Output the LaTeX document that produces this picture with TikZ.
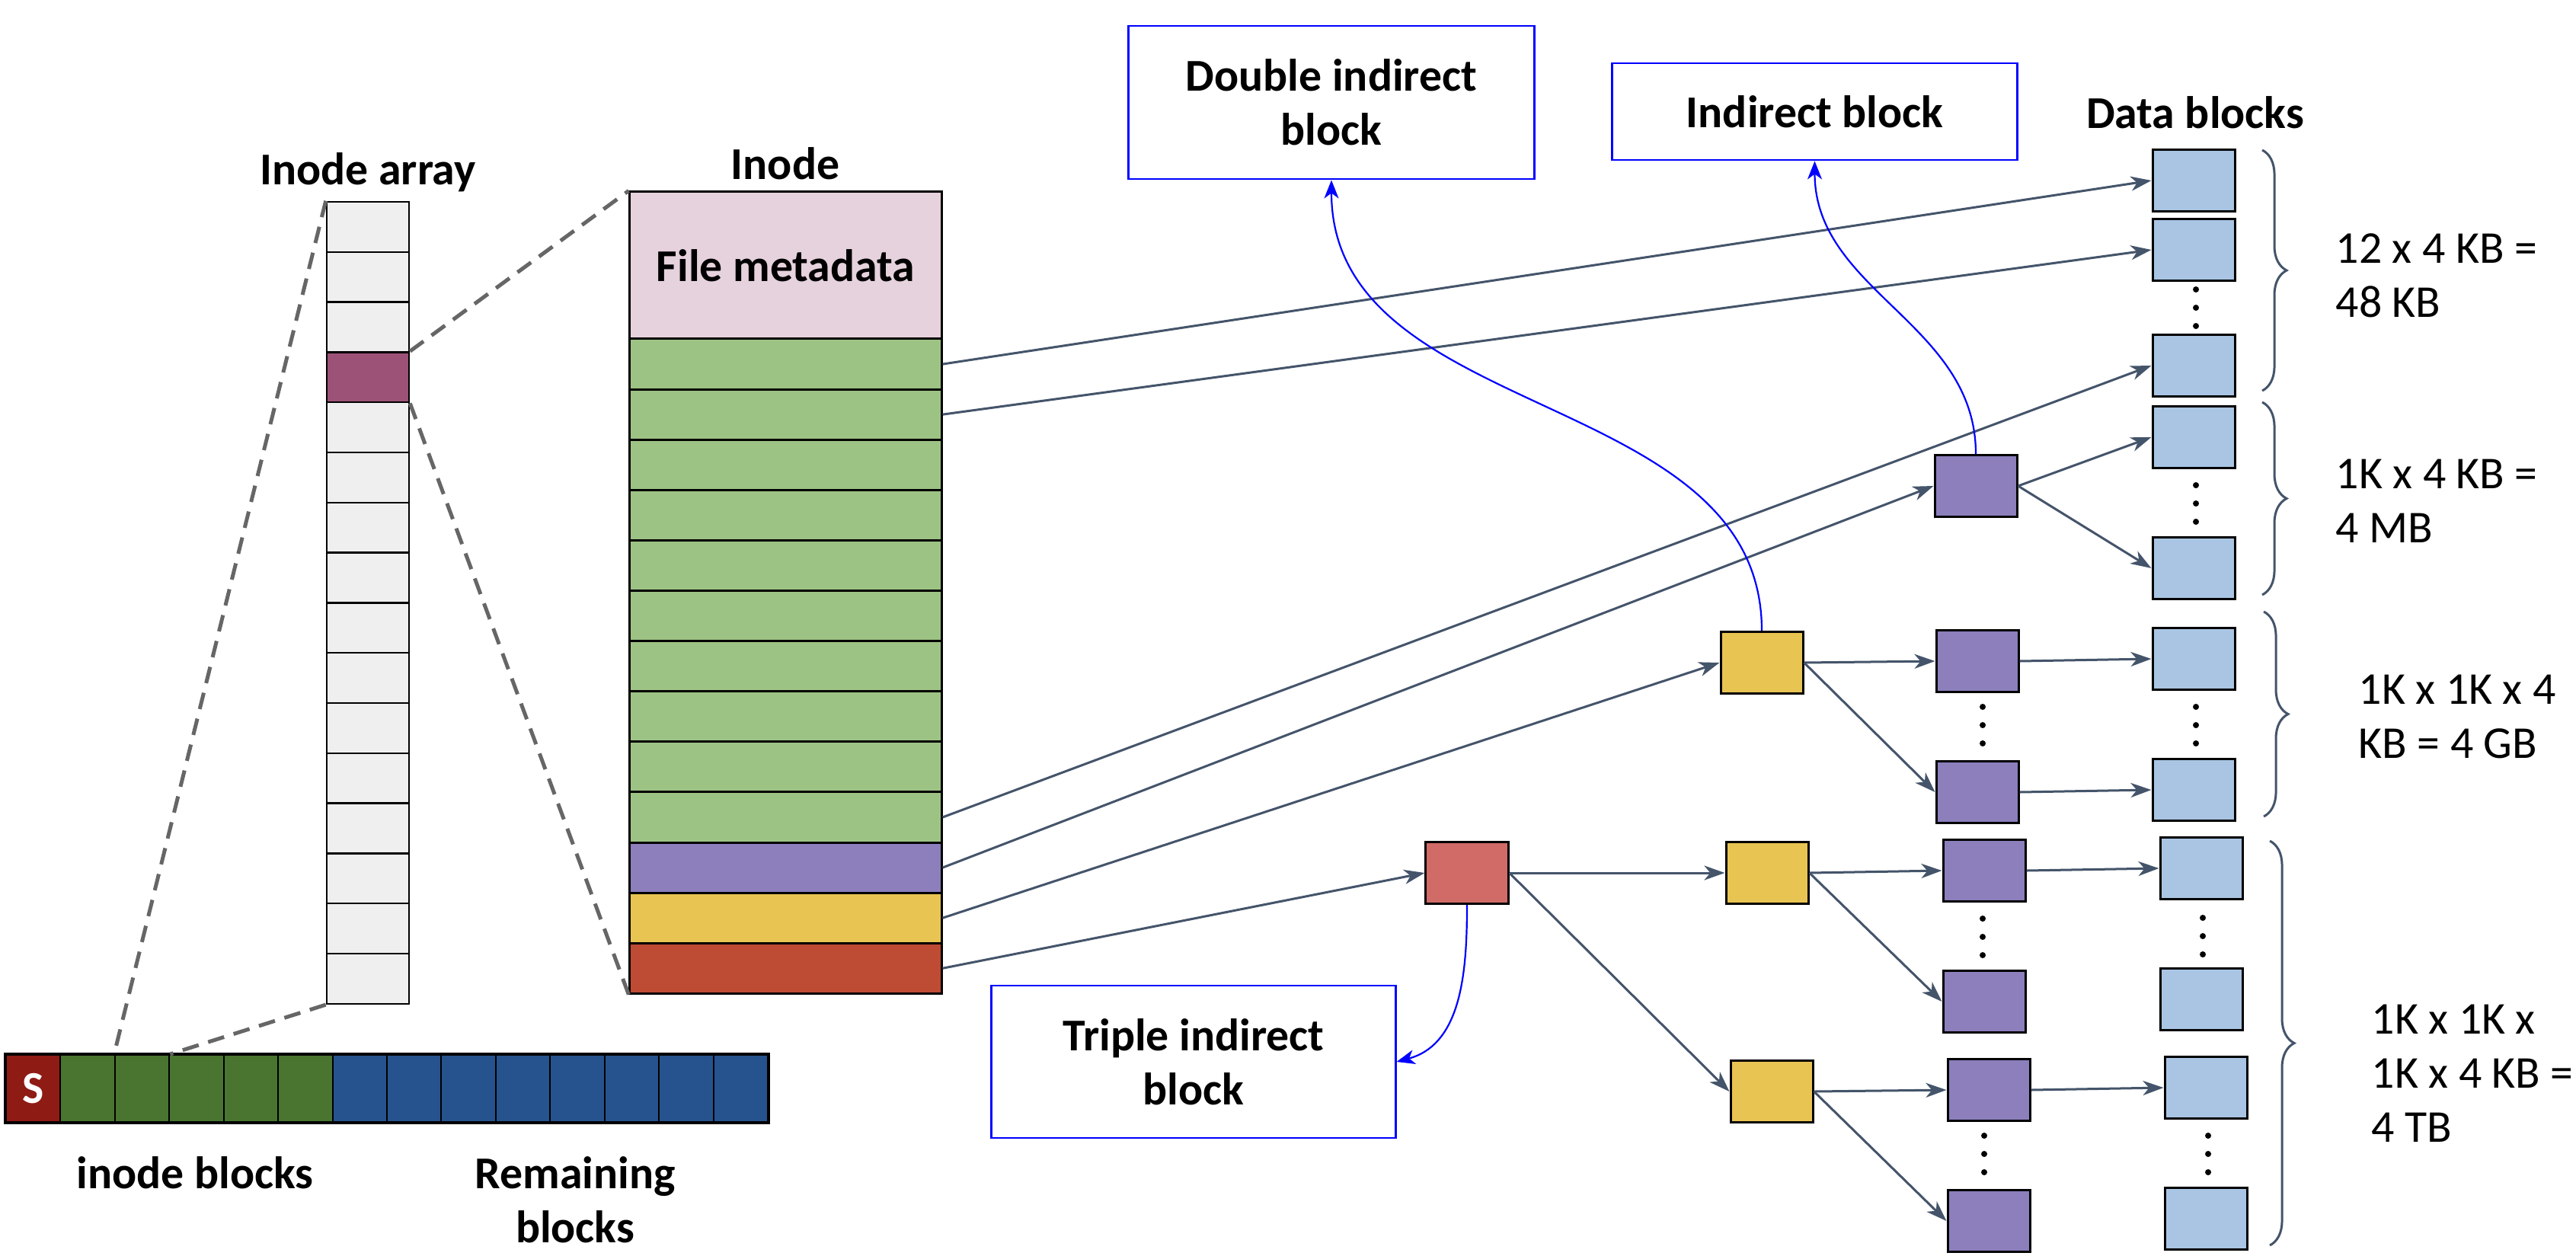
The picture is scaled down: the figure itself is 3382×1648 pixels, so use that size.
\documentclass[tikz,border=0pt]{standalone}
\usepackage{fontspec}
\setmainfont{Carlito}
\usetikzlibrary{arrows.meta,decorations.pathreplacing}

\definecolor{cellgray}{HTML}{EFEFEF}
\definecolor{cellpick}{HTML}{9C5276}
\definecolor{metapink}{HTML}{E6D2DC}
\definecolor{rowgreen}{HTML}{9DC384}
\definecolor{ptrpurple}{HTML}{8C7FBC}
\definecolor{ptryellow}{HTML}{E8C452}
\definecolor{ptrred}{HTML}{BE4B33}
\definecolor{ptrsalmon}{HTML}{D06B68}
\definecolor{datablue}{HTML}{A9C5E3}
\definecolor{superred}{HTML}{8E1B14}
\definecolor{diskgreen}{HTML}{4A7530}
\definecolor{diskblue}{HTML}{26538D}
\definecolor{linkgray}{HTML}{44546A}
\definecolor{zoomgray}{HTML}{666666}

\tikzset{%
				every entry/.style={
					draw,
					fill=cellgray,
					line width=0.025cm,
					inner sep=0pt,
					minimum width=1.08cm,
					minimum height=0.658cm
				},
				entry 4/.style={fill=cellpick},
				every field/.style={
					draw,
					line width=0.03cm,
					inner sep=0pt,
					minimum width=4.09cm,
					minimum height=0.661cm
				},
				field green/.style={fill=rowgreen},
				field purple/.style={fill=ptrpurple},
				field yellow/.style={fill=ptryellow},
				field red/.style={fill=ptrred},
				every disk/.style={
					draw,
					line width=0.02cm,
					inner sep=0pt,
					minimum width=0.7143cm,
					minimum height=0.88cm
				},
				disk super/.style={
					fill=superred,
					text=white,
					font=\fontsize{17}{20.2}\selectfont\bfseries,
					execute at begin node=S
				},
				disk inode/.style={fill=diskgreen},
				disk data/.style={fill=diskblue},
				block/.style={
					draw,
					line width=0.03cm,
					inner sep=0pt,
					minimum width=1.08cm,
					minimum height=0.81cm
				},
				note box/.style={
					draw=blue,
					line width=0.028cm,
					align=center,
					font=\fontsize{17}{20.2}\selectfont\bfseries
				},
				title/.style={font=\fontsize{17}{20.2}\selectfont\bfseries},
				link/.style={->, draw=linkgray, line width=0.03cm},
				note link/.style={-{Stealth[length=0.24cm,width=0.19cm,inset=0.07cm]}, draw=blue, line width=0.022cm},
				zoom line/.style={draw=zoomgray, line width=0.05cm, dash pattern=on 0.22cm off 0.13cm},
				size brace/.style={draw=linkgray, line width=0.03cm, decorate, decoration={brace, amplitude=0.32cm}},
				size label/.style={anchor=west, align=left, inner sep=0pt}
			}

\begin{document}
\begin{tikzpicture}[x=0.01cm, y=-0.01cm, >={Stealth[length=0.27cm,width=0.19cm,inset=0.08cm]}, font=\fontsize{17}{20.2}\selectfont]
			
			\useasboundingbox (0,0) rectangle (3382,1648);
			
			\foreach \i in {1,...,16}
			\node [every entry/.try, entry \i/.try] (entry-\i) at (483,232.1+65.8*\i) {};
			
			\node [every field, fill=metapink, minimum height=1.93cm, font=\fontsize{17}{20.2}\selectfont\bfseries] (meta) at (1031.5,348.5) {File metadata};
			
			\foreach \c [count=\j] in {green,green,green,green,green,green,green,green,green,green,purple,yellow,red}
			\node [every field/.try, field \c/.try] (field-\j) at (1031.5,411.95+66.1*\j) {};
			
			\foreach \c [count=\k] in {super,inode,inode,inode,inode,inode,data,data,data,data,data,data,data,data}
			\node [every disk/.try, disk \c/.try] (disk-\k) at (-27.715+71.43*\k,1429) {};
			\draw [line width=0.04cm] (disk-1.north west) rectangle (disk-14.south east);
			
			\draw [zoom line] (entry-1.north west) -- (disk-3.north west);
			\draw [zoom line] (entry-16.south west) -- (disk-3.north east);
			\draw [zoom line] (entry-4.north east) -- (meta.north west);
			\draw [zoom line] (entry-4.south east) -- (field-13.south west);
			
			\node [title] at (483,226) {Inode array};
			\node [title] at (1031,215) {Inode};
			\node [title] at (2882,148) {Data blocks};
			\node [title] at (256,1540) {inode blocks};
			\node [title, align=center] at (755,1575) {Remaining\\blocks};
			
			\foreach \x/\y [count=\i] in {2880/237,2880/328,2880/480,2880/574,2880/746,2880/865,2880/1037,2890/1140,2890/1312,2896/1428,2896/1600}
			\node [block, fill=datablue] (data-\i) at (\x,\y) {};
			
			\node [block, fill=ptrpurple] (single) at (2594,638) {};
			\node [block, fill=ptryellow] (double) at (2313,870) {};
			\node [block, fill=ptrpurple] (double-1) at (2596,868) {};
			\node [block, fill=ptrpurple] (double-2) at (2596,1040) {};
			\node [block, fill=ptrsalmon] (triple) at (1926,1146) {};
			\node [block, fill=ptryellow] (triple-1) at (2320,1146) {};
			\node [block, fill=ptryellow] (triple-2) at (2326,1433) {};
			\node [block, fill=ptrpurple] (triple-1a) at (2605,1143) {};
			\node [block, fill=ptrpurple] (triple-1b) at (2605,1315) {};
			\node [block, fill=ptrpurple] (triple-2a) at (2611,1431) {};
			\node [block, fill=ptrpurple] (triple-2b) at (2611,1603) {};
			
			\foreach \x/\y in {2883/404,2883/661,2603/952,2883/952,2603/1230,2892/1229,2605/1515,2899/1515}
			\foreach \d in {-24,0,24}
			\fill (\x,\y+\d) circle (0.04cm);
			
			\node [note box, minimum width=5.32cm, minimum height=2.01cm] (double-note) at (1748,134.5) {Double indirect\\block};
			\node [note box, minimum width=5.31cm, minimum height=1.27cm] (single-note) at (2382.5,146.5) {Indirect block};
			\node [note box, minimum width=5.30cm, minimum height=2.00cm] (triple-note) at (1567,1394) {Triple indirect\\block};
			
			\foreach \i/\j in {field-1/data-1, field-2/data-2, field-10/data-3, field-11/single, field-12/double, field-13/triple}
			\draw [link] (\i.east) -- (\j.west);
			
			\foreach \i/\j in {single/data-4, single/data-5, double/double-1, double/double-2, double-1/data-6, double-2/data-7, triple/triple-1, triple/triple-2, triple-1/triple-1a, triple-1/triple-1b, triple-2/triple-2a, triple-2/triple-2b, triple-1a/data-8, triple-2a/data-10}
			\draw [link] (\i.east) -- (\j.west);
			
			\draw [note link] (single.north) to [out=90, in=-90] (single-note.south);
			\draw [note link] (double.north) to [out=90, in=-90] (double-note.south);
			\draw [note link] (triple.south) to [out=-90, in=15] (triple-note.east);
			
			\draw [size brace] (2970,197) -- (2970,513);
			\draw [size brace] (2970,528) -- (2970,781);
			\draw [size brace] (2972,803) -- (2972,1072);
			\draw [size brace] (2980,1104) -- (2980,1635);
			
			\node [size label] at (3066,362) {12 x 4 KB =\\48 KB};
			\node [size label] at (3066,658) {1K x 4 KB =\\4 MB};
			\node [size label] at (3096,941) {1K x 1K x 4\\KB = 4 GB};
			\node [size label] at (3113,1409) {1K x 1K x\\1K x 4 KB =\\4 TB};
			
			\end{tikzpicture}
\end{document}
